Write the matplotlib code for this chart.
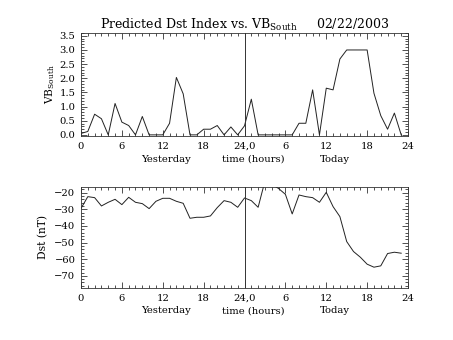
import matplotlib
matplotlib.use("Agg")
import matplotlib.pyplot as plt
from matplotlib.ticker import MultipleLocator, FixedLocator
from matplotlib.transforms import blended_transform_factory

plt.rcParams['font.family'] = 'DejaVu Serif'
plt.rcParams['mathtext.fontset'] = 'dejavuserif'

# hours since start of yesterday (0..47)
hours = list(range(48))

# VB south (top panel)
vb_south = [0.05, 0.12, 0.73, 0.57, 0.0, 1.11, 0.45, 0.33, 0.0, 0.65,
            0.0, 0.0, 0.0, 0.41, 2.03, 1.45, 0.0, 0.0, 0.2, 0.2,
            0.33, 0.0, 0.28, 0.0, 0.32, 1.26, 0.0, 0.0, 0.0, 0.0,
            0.0, 0.0, 0.41, 0.41, 1.59, 0.0, 1.65, 1.59, 2.68, 3.0,
            3.0, 3.0, 3.0, 1.47, 0.68, 0.2, 0.77, 0.0]

# predicted Dst (bottom panel), nT
dst = [-29.5, -22.4, -23.0, -28.0, -25.8, -24.0, -27.2, -22.8, -25.8, -26.6,
       -29.6, -25.2, -23.4, -23.4, -25.2, -26.4, -35.4, -34.8, -34.8, -34.0,
       -29.0, -24.8, -25.8, -28.8, -23.2, -24.8, -28.8, -13.0, -15.0, -17.5,
       -21.0, -32.8, -21.4, -22.4, -23.0, -25.8, -19.8, -28.4, -34.4, -49.4,
       -55.4, -58.8, -63.0, -64.8, -64.0, -56.6, -55.8, -56.4]

xtick_pos = [0, 6, 12, 18, 24, 30, 36, 42, 48]
xtick_lab = ['0', '6', '12', '18', '24,0', '6', '12', '18', '24']

fig = plt.figure(figsize=(4.53, 3.40), dpi=100)
ax1 = fig.add_axes([0.1788, 0.600, 0.7219, 0.303])
ax2 = fig.add_axes([0.1788, 0.153, 0.7219, 0.298])

fs = 7.2
gray = '#333333'


def style(ax):
    ax.set_xlim(0, 48)
    ax.xaxis.set_major_locator(FixedLocator(xtick_pos))
    ax.set_xticklabels(xtick_lab)
    ax.xaxis.set_minor_locator(MultipleLocator(1))
    ax.tick_params(which='both', direction='in', top=True, right=True,
                   labelsize=fs, color=gray, width=0.6, pad=4)
    ax.tick_params(which='major', length=4)
    ax.tick_params(which='minor', length=2)
    for s in ax.spines.values():
        s.set_linewidth(0.6)
        s.set_color(gray)
    ax.axvline(24, color=gray, lw=0.7)
    # second row of x labels
    tr = blended_transform_factory(ax.transData, ax.transAxes)
    ax.text(12.4, -0.25, 'Yesterday', transform=tr, ha='center', va='baseline', fontsize=fs)
    ax.text(25.3, -0.25, 'time (hours)', transform=tr, ha='center', va='baseline', fontsize=fs)
    ax.text(37.3, -0.25, 'Today', transform=tr, ha='center', va='baseline', fontsize=fs)


ax1.plot(hours, vb_south, color='#222222', lw=0.7)
style(ax1)
ax1.set_ylim(-0.04, 3.6)
ax1.yaxis.set_major_locator(MultipleLocator(0.5))
ax1.yaxis.set_minor_locator(MultipleLocator(0.1))
ax1.yaxis.set_major_formatter(plt.FormatStrFormatter('%.1f'))
ax1.set_ylabel(r'$\mathrm{VB}_{\mathrm{South}}$', fontsize=fs + 0.5, labelpad=2)
ax1.set_title(r'Predicted Dst Index vs. $\mathrm{VB}_{\mathrm{South}}$     02/22/2003',
              fontsize=9, pad=3)

ax2.plot(hours, dst, color='#222222', lw=0.7)
style(ax2)
ax2.set_ylim(-77.3, -16.4)
ax2.yaxis.set_major_locator(MultipleLocator(10))
ax2.yaxis.set_minor_locator(MultipleLocator(2))
ax2.set_ylabel('Dst (nT)', fontsize=fs + 0.5, labelpad=4)

fig.savefig('out.png', dpi=100)
